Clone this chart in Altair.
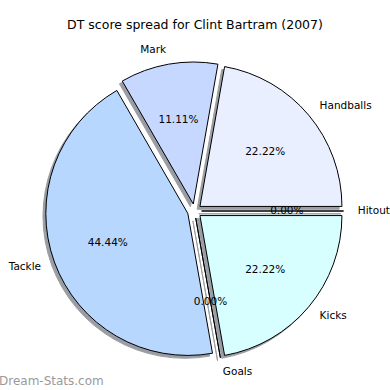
import math
import altair as alt
import pandas as pd

# ---- data ----
categories = ["Handballs", "Mark", "Tackle", "Goals", "Kicks", "Hitout"]
values = [22.22, 11.11, 44.44, 0.0, 22.22, 0.0]
explode = [0.05, 0.05, 0.05, 0.05, 0.05, 0.05]
title_text = "DT score spread for Clint Bartram (2007)"
watermark_text = "Dream-Stats.com"

# ---- styles ----
palette = ["#E9EFFF", "#C6D8FF", "#B8D7FF", "#D0E4FF", "#D8FFFF", "#EEF4FF"]
FONT = "DejaVu Sans"

df = pd.DataFrame({"cat": categories, "val": values, "ex": explode,
                   "idx": list(range(len(categories)))})

W = H = 390
R = 142.0
CX, CY = 194.5, 211.0
xs = alt.Scale(domain=[-CX / R, (W - CX) / R], range=[0, W])
ys = alt.Scale(domain=[-(H - CY) / R, CY / R], range=[H, 0])
ts = alt.Scale(domain=[0, 1], range=[math.pi / 2, math.pi / 2 - 2 * math.pi])
cs = alt.Scale(domain=categories, range=palette)

base = (
    alt.Chart(df)
    .transform_window(cum="sum(val)", sort=[alt.SortField("idx")], frame=[None, 0])
    .transform_joinaggregate(tot="sum(val)")
    .transform_calculate(
        f0="(datum.cum - datum.val) / datum.tot",
        f1="datum.cum / datum.tot",
        am="2 * PI * (datum.cum - datum.val / 2) / datum.tot",
    )
    .transform_calculate(
        dx="datum.ex * cos(datum.am)",
        dy="datum.ex * sin(datum.am)",
    )
    .transform_calculate(
        sx="datum.dx - 0.02",
        sy="datum.dy - 0.02",
        lx="datum.dx + 1.1 * cos(datum.am)",
        ly="datum.dy + 1.1 * sin(datum.am)",
        px="datum.dx + 0.6 * cos(datum.am)",
        py="datum.dy + 0.6 * sin(datum.am)",
        pct="format(100 * datum.val / datum.tot, '.2f') + '%'",
    )
)

shadow = base.mark_arc(outerRadius=R, fill="#38404C", stroke="#38404C",
                       strokeWidth=1, opacity=0.5).encode(
    x=alt.X("sx:Q", scale=xs, axis=None),
    y=alt.Y("sy:Q", scale=ys, axis=None),
    theta=alt.Theta("f0:Q", scale=ts, stack=None),
    theta2="f1:Q",
)

wedges = base.mark_arc(outerRadius=R, stroke="black", strokeWidth=1).encode(
    x=alt.X("dx:Q", scale=xs, axis=None),
    y=alt.Y("dy:Q", scale=ys, axis=None),
    theta=alt.Theta("f0:Q", scale=ts, stack=None),
    theta2="f1:Q",
    color=alt.Color("cat:N", scale=cs, legend=None),
)

labels_r = base.transform_filter("datum.lx > 0").mark_text(
    align="left", baseline="middle", font=FONT, fontSize=10.5, color="black"
).encode(x=alt.X("lx:Q", scale=xs, axis=None), y=alt.Y("ly:Q", scale=ys, axis=None), text="cat:N")

labels_l = base.transform_filter("datum.lx <= 0").mark_text(
    align="right", baseline="middle", font=FONT, fontSize=10.5, color="black"
).encode(x=alt.X("lx:Q", scale=xs, axis=None), y=alt.Y("ly:Q", scale=ys, axis=None), text="cat:N")

pcts = base.mark_text(
    align="center", baseline="middle", font=FONT, fontSize=10.5, color="black"
).encode(x=alt.X("px:Q", scale=xs, axis=None), y=alt.Y("py:Q", scale=ys, axis=None), text="pct:N")

title = alt.Chart(pd.DataFrame({"t": [title_text]})).mark_text(
    align="center", baseline="middle", font=FONT, fontSize=12.5, color="black"
).encode(x=alt.value(195), y=alt.value(25), text="t:N")

watermark = alt.Chart(pd.DataFrame({"t": [watermark_text]})).mark_text(
    align="left", baseline="alphabetic", font=FONT, fontSize=12, color="#9a9a9a"
).encode(x=alt.value(-1), y=alt.value(385), text="t:N")

chart = (
    alt.layer(shadow, wedges, labels_r, labels_l, pcts, title, watermark)
    .properties(width=W, height=H, padding=0, autosize=alt.AutoSizeParams(type="none"),
                background="white")
    .configure_view(stroke=None)
)

chart.save("out.html", embed_options={"renderer": "svg", "actions": False})
